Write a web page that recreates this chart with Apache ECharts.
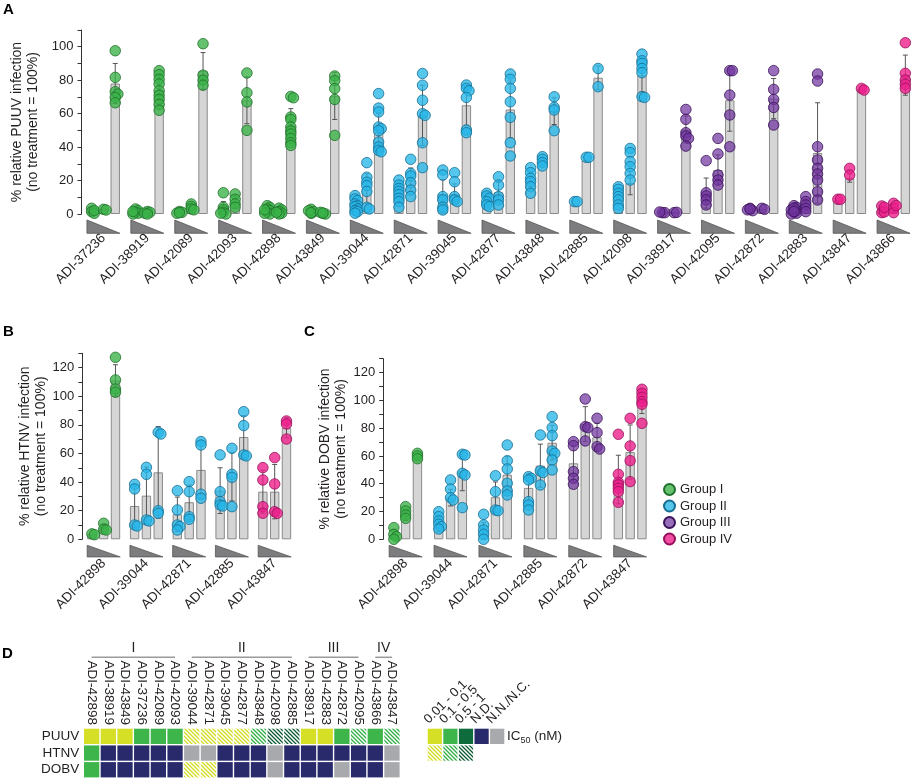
<!DOCTYPE html>
<html>
<head>
<meta charset="utf-8">
<script src="https://cdn.jsdelivr.net/npm/echarts@6/dist/echarts.min.js"></script>
<style>html,body{margin:0;padding:0;background:#fff;}#c{width:912px;height:779px;}</style>
</head>
<body>
<div id="c"></div>
<script>
// ---------------- DATA ----------------
const groupNames = ['Group I', 'Group II', 'Group III', 'Group IV'];

// Panel A (PUUV)
const puuvAntibodies = ['ADI-37236','ADI-38919','ADI-42089','ADI-42093','ADI-42898','ADI-43849','ADI-39044','ADI-42871','ADI-39045','ADI-42877','ADI-43848','ADI-42885','ADI-42098','ADI-38917','ADI-42095','ADI-42872','ADI-42883','ADI-43847','ADI-43866'];
const puuvGroup = [1,1,1,1,1,1,2,2,2,2,2,2,2,3,3,3,3,4,4];
const puuvMean = [[2,3,78],[1.5,0.8,74],[1,4,85.5],[3.5,7.5,68],[2,1.5,53],[1.3,0.5,70.5],[5,15,49],[12.5,20.5,59],[12,12,65],[7,13,62.5],[20,31.3,61.5],[5.5,32,81.5],[10,18.5,83],[1,1,50.5],[12.5,26.3,68],[2.5,3,69],[2.5,5.5,36.5],[8,21.5,74.5],[2.5,3.5,83]];
const puuvSD = [[1,0.5,12],[1,0.5,8],[0.5,1.5,11],[4,3.5,14],[1.8,1.2,10],[1.2,0.5,14],[3.5,9,11],[5,7,18],[8.5,6,12],[3,6,17],[5.5,2.5,8],[0,0,7],[4.5,7,10],[0.3,0.3,8],[9,9,18.5],[0.7,0.5,12],[2,3,30],[0,2.5,0.5],[2,2.5,12]];
const puuvPoints = [
  [[3.4,1.4,0.4,2],[2.8,2.4],[97.6,81.7,73.1,71.7,69.7,66.5]],
  [[3,2,1,0.5,0,1.5],[1.5,1,0.5,0],[85.7,83.3,80.5,77.7,73.7,71,68.5,65.5,62]],
  [[1.5,1,0.5,0.8],[6,4.5,3,2.5],[101.8,83,80,77]],
  [[12.7,4,2.5,1,0,0.5],[12,8.8,6,4],[84.3,72.5,67,50]],
  [[5,4,3,2,1,0,0.5,2.5],[3.5,2.5,1.5,0.5,0,1],[70.3,69.5,58,56.5,52,49.6,47.8,45.2,42.6,41]],
  [[2.8,1.4,0.4,2,0.8],[0.4,0,1,0.6],[82.5,79.7,75,68.5,47]],
  [[11,9,8,6,5,4.4,3,2,1.5,0.5],[30.7,22,19,17,13.5,4,3],[72,63.3,61,52,51,49.8,43,40,38,37.2]],
  [[20.3,17.3,15.3,13.5,11.6,9.4,7.4,4],[32.7,24.3,22.7,18.7,14.3,10.4],[84,77,68,60,59,42.6,27.7]],
  [[26.3,23.3,10.4,8.4,4,2.4],[24.7,19.3,10.4,8.4,7.4],[77.1,75.1,73.7,69.7,50.2,48.6]],
  [[12.4,10.8,9.4,7.4,5.4,4.4],[22.3,17.3,10.4,8.4,5.4],[83.7,80.5,75.1,67.1,57.8,42.6,34.7]],
  [[27.7,24.7,21.3,19.3,16.3,12.4],[34.3,32.7,30.7,28.7],[70.1,63.7,62.2,49.8]],
  [[7.4,7.4],[33.9,33.9],[87,76.1]],
  [[16.3,14.7,12.4,10.4,8.4,5.4,3.4],[39.2,36.7,31.3,28.3,24.3,20.3],[95.6,91.6,90,87,84.5,70.1,69.7]],
  [[0.8,0.8,1.2],[0.8,1],[62.5,56.6,48.6,46.6,45.2,40.6]],
  [[31.9,12.7,10.8,8.4,5.4],[45.2,35.9,23.3,20.3,17.3],[85.7,85.7,71.1,59.2,40.2]],
  [[3.4,2,2.5,3],[3.4,2.8],[85.7,74.5,68.5,63.7,53.2]],
  [[5,4,3,2,1,0.5,0,2.5,3.5,1.5],[10.4,7.4,5.4,3.4,1.4],[83.7,79.5,40.2,32.3,27.3,23.9,20.3,13.3,8.4]],
  [[8.8,8.8],[27.3,23.3],[75.1,74.1]],
  [[4.8,0.8,1.2,4],[6.4,3.4,0.8,5],[102.4,84.1,80.1,77.5,75.1]]
];

// Panel B (HTNV)
const htnvAntibodies = ['ADI-42898','ADI-39044','ADI-42871','ADI-42885','ADI-43847'];
const htnvGroup = [1,2,2,2,4];
const htnvMean = [[3.5,8.2,111],[23.3,30.5,46.8],[17.5,25.9,48.5],[34,43.8,71.5],[33.3,33.3,78]];
const htnvSD = [[0.4,2.5,11],[15,20,32],[12,12,20],[16,17,15],[15,19,7]];
const htnvPoints = [
  [[3.8,3.2],[11.2,7,6.5],[127.2,111.4,105,102.8]],
  [[38.4,35.2,10,9.3],[50.3,45.4,13.5,12.8],[74.8,73.6,20,18.2]],
  [[34,20.5,10,8.9,6.5],[40.3,33.3,15.8,14],[68.3,65.9,31.5,28.7]],
  [[59,33.3,26.3,24,23.3],[63.6,45.4,43.3,22.8],[89.2,79.5,59,58.3]],
  [[50.1,41.5,22.8,18.2],[57.1,38.7,19.3,18.2],[82.7,80.6,70.1]]
];

// Panel C (DOBV)
const dobvAntibodies = ['ADI-42898','ADI-39044','ADI-42871','ADI-42885','ADI-42872','ADI-43847'];
const dobvGroup = [1,2,2,2,3,4];
const dobvMean = [[3.5,17,59],[10,30,49],[6,30.3,46.5],[37,53,69.5],[54.7,83,73.5],[43,62.8,99]];
const dobvSD = [[3.5,3.5,1.5],[4.5,6,14],[6,11,13],[10,15.5,12.5],[13,12.5,10],[17.5,19.5,8.5]];
const dobvPoints = [
  [[8.4,3.6,1.9,0],[23.5,20.4,17.5,15.1],[61.9,60,58]],
  [[19.9,16.3,13.2,10.8,9.1,7.4],[42.7,36.2,30,28.3],[61.2,60.7,47.5,46.3,22.8]],
  [[18,10.3,6.7,3.6,0],[45.8,34.3,21.1,20.6],[67.9,56.6,50.6,40.3,34.8,31.9]],
  [[45.1,43.9,42.7,27.1,24.7,21.1],[75.1,49.2,48,39.1],[88.3,80.4,74.6,63.6,61.9,57.1,49.9]],
  [[70.3,67.4,48.7,43.9,39.6],[101,81.1,80.4,70.8],[87.1,76.8,66.7,65]],
  [[75.6,46.8,41,39.1,36.7,34.3,26.6],[87.1,67.2,56.6,41.5],[108,105.1,102.2,99.1,97.2,83.5]]
];

// Panel D (IC50 heatmap)
const heatAntibodies = ['ADI-42898','ADI-38919','ADI-43849','ADI-37236','ADI-42089','ADI-42093','ADI-39044','ADI-42871','ADI-39045','ADI-42877','ADI-43848','ADI-42098','ADI-42885','ADI-38917','ADI-42883','ADI-42872','ADI-42095','ADI-43866','ADI-43847'];
const heatViruses = ['PUUV','HTNV','DOBV'];
const heatPUUV = ['Y','Y','Y','G','G','G','Yh','Yh','Yh','Yh','Gh','DGh','DGh','Y','Y','G','Gh','G','Gh'];
const heatHTNV = ['G','ND','ND','ND','ND','ND','NN','NN','ND','ND','ND','NN','ND','ND','ND','ND','ND','ND','NN'];
const heatDOBV = ['G','ND','ND','ND','ND','ND','Yh','Yh','ND','ND','ND','NN','ND','ND','ND','NN','ND','ND','NN'];
const heatGroupSpans = [['I',0,5],['II',6,12],['III',13,16],['IV',17,18]];
const icLegendLabels = ['0.01 - 0.1','0.1 - 0.5','0.5 - 1','N.D.','N.N./N.C.'];
const icLegendSolid = ['Y','G','DG','ND','NN'];
const icLegendHatched = ['Yh','Gh','DGh'];

// ---------------- STYLE ----------------
const FONT = '"Liberation Sans", Arial, Helvetica, sans-serif';
const TXT = '#231f20';
const PITCH = 11.8, BARW = 9.4;
const groupFill = ['rgba(58,178,72,0.78)','rgba(38,182,232,0.78)','rgba(112,52,158,0.72)','rgba(236,32,140,0.8)'];
const groupStroke = ['#1f6f2a','#176d92','#3a1259','#95105a'];

function hatch(fg) {
  const c = document.createElement('canvas');
  c.width = 4; c.height = 4;
  const ctx = c.getContext('2d');
  ctx.fillStyle = '#ffffff'; ctx.fillRect(0,0,4,4);
  ctx.strokeStyle = fg; ctx.lineWidth = 1.3;
  ctx.beginPath();
  ctx.moveTo(-1,-1); ctx.lineTo(5,5);
  ctx.moveTo(-1,3); ctx.lineTo(1,5);
  ctx.moveTo(3,-1); ctx.lineTo(5,1);
  ctx.stroke();
  return c;
}
const codeFill = {
  Y: '#d5df26', G: '#3db54a', DG: '#0e6b3b', ND: '#282a6c', NN: '#a8a9ac',
  Yh: {image: hatch('#d2dc1e'), repeat: 'repeat'},
  Gh: {image: hatch('#2fae45'), repeat: 'repeat'},
  DGh: {image: hatch('#0c5a32'), repeat: 'repeat'}
};
const codeList = Object.keys(codeFill);

const panels = [
  {names: puuvAntibodies, group: puuvGroup, mean: puuvMean, sd: puuvSD, pts: puuvPoints,
   grid: {left: 81.5, top: 30, width: 834, height: 184}, yMax: 110,
   title: '% relative PUUV infection\n(no treatment = 100%)', triTop: 6, triBot: 19.3},
  {names: htnvAntibodies, group: htnvGroup, mean: htnvMean, sd: htnvSD, pts: htnvPoints,
   grid: {left: 82.3, top: 353.3, width: 213.75, height: 186}, yMax: 130,
   title: '% relative HTNV infection\n(no treatment = 100%)', triTop: 6, triBot: 17.6},
  {names: dobvAntibodies, group: dobvGroup, mean: dobvMean, sd: dobvSD, pts: dobvPoints,
   grid: {left: 383.2, top: 358.7, width: 269.4, height: 180.6}, yMax: 130,
   title: '% relative DOBV infection\n(no treatment = 100%)', triTop: 6, triBot: 17.6}
];

function swarm(vals, unitPx) {
  const placed = [];
  return vals.map(v => {
    const y = v * unitPx;
    const cands = [0, 2.6, -2.6];
    let dx = 0;
    for (const c of cands) {
      if (!placed.some(p => p.dx === c && Math.abs(p.y - y) < 2.4)) { dx = c; break; }
    }
    placed.push({dx, y});
    return dx;
  });
}

const grids = [], xAxes = [], yAxes = [], series = [];

panels.forEach((p, pi) => {
  grids.push(Object.assign({containLabel: false, outerBoundsMode: 'none'}, p.grid));
  xAxes.push({
    type: 'category', gridIndex: pi, data: p.names,
    axisLine: {show: false}, axisTick: {show: false}, splitLine: {show: false},
    axisLabel: {interval: 0, rotate: 45, margin: 22, fontSize: 13.5, color: TXT, fontFamily: FONT}
  });
  yAxes.push({
    type: 'value', gridIndex: pi, min: 0, max: p.yMax, interval: 10,
    name: p.title, nameLocation: 'middle', nameGap: 31,
    nameTextStyle: {fontSize: 14, color: TXT, fontFamily: FONT, lineHeight: 16},
    axisLine: {show: true, lineStyle: {color: '#333', width: 1}},
    axisTick: {show: true, length: 4, inside: false, lineStyle: {color: '#333', width: 1}},
    splitLine: {show: false},
    axisLabel: {margin: 8, fontSize: 13, color: TXT, fontFamily: FONT,
      formatter: v => (v % 20 === 0 ? String(v) : '')}
  });
  for (let j = 0; j < 3; j++) {
    series.push({
      type: 'bar', xAxisIndex: pi, yAxisIndex: pi, silent: true, z: 2,
      barWidth: BARW, barGap: '25.5%',
      itemStyle: {color: '#d5d5d5', borderColor: '#8a8a8a', borderWidth: 1},
      data: p.mean.map(m => m[j])
    });
  }
  // error bars
  const errData = [];
  p.mean.forEach((m, i) => m.forEach((v, j) => errData.push([i, j, v, p.sd[i][j]])));
  series.push({
    type: 'custom', xAxisIndex: pi, yAxisIndex: pi, silent: true, z: 3, clip: false,
    encode: {x: 0, y: 2},
    data: errData,
    renderItem: (params, api) => {
      const cat = api.value(0), j = api.value(1), m = api.value(2), s = api.value(3);
      if (s < 0.8) return null;
      const x = api.coord([cat, m])[0] + (j - 1) * PITCH;
      const yT = api.coord([cat, m + s])[1];
      const yB = api.coord([cat, Math.max(0, m - s)])[1];
      const st = {stroke: '#555', lineWidth: 1, fill: null};
      return {type: 'group', children: [
        {type: 'line', shape: {x1: x, y1: yT, x2: x, y2: yB}, style: st},
        {type: 'line', shape: {x1: x - 2.5, y1: yT, x2: x + 2.5, y2: yT}, style: st},
        {type: 'line', shape: {x1: x - 2.5, y1: yB, x2: x + 2.5, y2: yB}, style: st}
      ]};
    }
  });
  // concentration wedges
  series.push({
    type: 'custom', xAxisIndex: pi, yAxisIndex: pi, silent: true, z: 3, clip: false,
    encode: {x: 0, y: 1},
    data: p.names.map((n, i) => [i, 0]),
    renderItem: (params, api) => {
      const c = api.coord([api.value(0), 0]);
      const hw = PITCH + BARW / 2;
      return {type: 'polygon', shape: {points: [
        [c[0] - hw, c[1] + p.triTop], [c[0] - hw, c[1] + p.triBot], [c[0] + hw, c[1] + p.triBot]
      ]}, style: {fill: '#7d7d7f', stroke: '#555', lineWidth: 0.8}};
    }
  });
  // points
  const unitPx = p.grid.height / p.yMax;
  for (let g = 1; g <= 4; g++) {
    const data = [];
    p.names.forEach((n, i) => {
      if (p.group[i] !== g) return;
      p.pts[i].forEach((vals, j) => {
        const offs = swarm(vals, unitPx);
        vals.forEach((v, k) => data.push({value: [i, v], symbolOffset: [(j - 1) * PITCH + offs[k], 0]}));
      });
    });
    series.push({
      type: 'scatter', name: groupNames[g - 1], xAxisIndex: pi, yAxisIndex: pi, z: 5,
      symbol: 'circle', symbolSize: 10.5, silent: true,
      itemStyle: {color: groupFill[g - 1], borderColor: groupStroke[g - 1], borderWidth: 0.8, opacity: 1},
      data: data
    });
  }
});

// Heatmap grid (index 3)
grids.push({left: 83.3, top: 728, width: 317, height: 50.1, containLabel: false, outerBoundsMode: 'none'});
xAxes.push({type: 'category', gridIndex: 3, position: 'top', data: heatAntibodies,
  axisLine: {show: false}, axisTick: {show: false}, splitLine: {show: false},
  axisLabel: {interval: 0, rotate: 90, margin: 3, fontSize: 13.5, color: TXT, fontFamily: FONT}});
yAxes.push({type: 'category', gridIndex: 3, inverse: true, data: heatViruses,
  axisLine: {show: false}, axisTick: {show: false}, splitLine: {show: false},
  axisLabel: {interval: 0, margin: 4, fontSize: 13.5, color: TXT, fontFamily: FONT}});
const heatRows = [heatPUUV, heatHTNV, heatDOBV];
const heatData = [];
heatRows.forEach((row, r) => row.forEach((code, c) => heatData.push([c, r, codeList.indexOf(code)])));
function cellRender(params, api) {
  const c = api.coord([api.value(0), api.value(1)]);
  const sz = api.size([1, 1]);
  const code = codeList[api.value(2)];
  return {type: 'rect', shape: {x: c[0] - sz[0] / 2 + 0.7, y: c[1] - sz[1] / 2 + 0.7, width: sz[0] - 1.4, height: sz[1] - 1.4},
    style: {fill: codeFill[code], stroke: null}};
}
series.push({type: 'custom', xAxisIndex: 3, yAxisIndex: 3, silent: true, encode: {x: 0, y: 1},
  data: heatData, renderItem: cellRender});
// group brackets
series.push({type: 'custom', xAxisIndex: 3, yAxisIndex: 3, silent: true, clip: false, encode: {x: 0, y: 1},
  data: heatGroupSpans.map((s, k) => [s[1], 0, s[2], k]),
  renderItem: (params, api) => {
    const a = api.coord([api.value(0), 0]);
    const b = api.coord([api.value(2), 0]);
    const top = a[1] - api.size([1, 1])[1] / 2;
    const y = top - 70.7;
    return {type: 'group', children: [
      {type: 'line', shape: {x1: a[0], y1: y, x2: b[0], y2: y}, style: {stroke: '#9a9a9a', lineWidth: 1.5}},
      {type: 'text', x: (a[0] + b[0]) / 2, y: y - 2,
       style: {text: heatGroupSpans[api.value(3)][0], fill: TXT, font: '14px ' + FONT, textAlign: 'center', textVerticalAlign: 'bottom'}}
    ]};
  }});

// IC50 legend grid (index 4)
grids.push({left: 427, top: 728, width: 78, height: 33.4, containLabel: false, outerBoundsMode: 'none'});
xAxes.push({type: 'category', gridIndex: 4, position: 'top', data: icLegendLabels,
  axisLine: {show: false}, axisTick: {show: false}, splitLine: {show: false},
  axisLabel: {show: false}});
yAxes.push({type: 'category', gridIndex: 4, inverse: true, position: 'right', data: ['IC50', ''],
  axisLine: {show: false}, axisTick: {show: false}, splitLine: {show: false},
  axisLabel: {interval: 0, margin: 2, fontSize: 13.5, color: TXT, fontFamily: FONT,
    formatter: v => (v === 'IC50' ? 'IC{s|50} (nM)' : ''),
    rich: {s: {fontSize: 9, verticalAlign: 'bottom', padding: [8, 0, 0, 0], color: TXT, fontFamily: FONT}}}});
const legData = [];
icLegendSolid.forEach((code, c) => legData.push([c, 0, codeList.indexOf(code)]));
icLegendHatched.forEach((code, c) => legData.push([c, 1, codeList.indexOf(code)]));
series.push({type: 'custom', xAxisIndex: 4, yAxisIndex: 4, silent: true, encode: {x: 0, y: 1},
  data: legData, renderItem: cellRender});
// rotated legend labels
series.push({type: 'custom', xAxisIndex: 4, yAxisIndex: 4, silent: true, clip: false, encode: {x: 0, y: 1},
  data: icLegendLabels.map((l, i) => [i, 0]),
  renderItem: (params, api) => {
    const c = api.coord([api.value(0), 0]);
    const top = c[1] - api.size([1, 1])[1] / 2;
    return {type: 'text', x: c[0] - 4, y: top - 2, rotation: Math.PI / 4,
      style: {text: icLegendLabels[params.dataIndex], fill: TXT, font: '13px ' + FONT, textAlign: 'left', textVerticalAlign: 'bottom'}};
  }});

const option = {
  animation: false,
  backgroundColor: '#fff',
  textStyle: {fontFamily: FONT},
  grid: grids, xAxis: xAxes, yAxis: yAxes, series: series,
  legend: {data: groupNames, orient: 'vertical', left: 658, top: 478, itemWidth: 11, itemHeight: 11, itemGap: 3.5,
    icon: 'circle', selectedMode: false, textStyle: {fontSize: 13, color: TXT, fontFamily: FONT}},
  graphic: [
    {type: 'text', left: 3, top: 2, style: {text: 'A', font: 'bold 15px ' + FONT, fill: '#000'}},
    {type: 'text', left: 3, top: 324, style: {text: 'B', font: 'bold 15px ' + FONT, fill: '#000'}},
    {type: 'text', left: 304, top: 324, style: {text: 'C', font: 'bold 15px ' + FONT, fill: '#000'}},
    {type: 'text', left: 2, top: 646, style: {text: 'D', font: 'bold 15px ' + FONT, fill: '#000'}}
  ]
};
const chart = echarts.init(document.getElementById('c'), null, {renderer: 'canvas'});
chart.setOption(option);
</script>
</body>
</html>
